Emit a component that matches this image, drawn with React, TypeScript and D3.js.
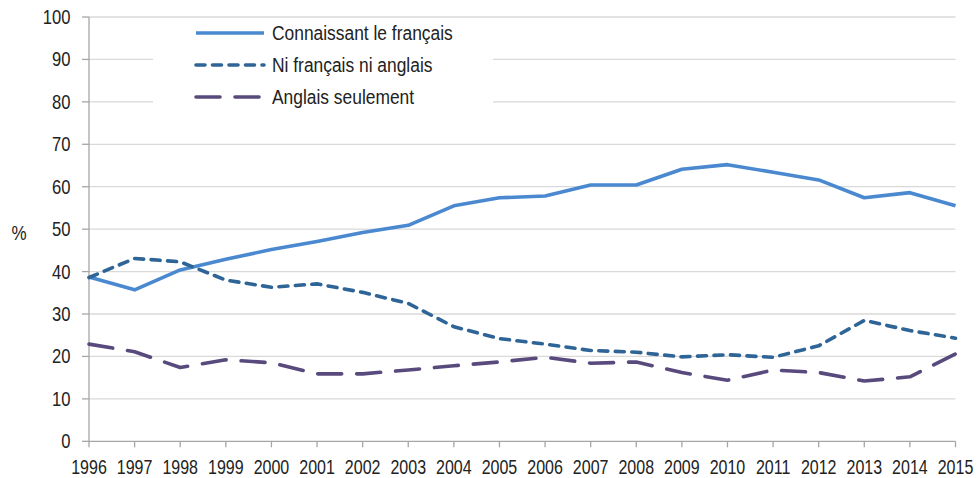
import React from "react";
import * as d3 from "d3";

const years = [1996, 1997, 1998, 1999, 2000, 2001, 2002, 2003, 2004, 2005, 2006, 2007, 2008, 2009, 2010, 2011, 2012, 2013, 2014, 2015];
const connaissant = [38.7, 35.7, 40.4, 42.9, 45.2, 47.1, 49.2, 50.9, 55.5, 57.4, 57.8, 60.4, 60.4, 64.1, 65.2, 63.4, 61.6, 57.4, 58.6, 55.5];
const niNi = [38.6, 43.1, 42.3, 38.0, 36.3, 37.1, 35.1, 32.5, 27.0, 24.2, 22.9, 21.4, 21.0, 19.9, 20.4, 19.8, 22.5, 28.5, 26.1, 24.3];
const anglais = [22.9, 21.1, 17.4, 19.2, 18.5, 15.9, 15.9, 16.8, 17.8, 18.7, 19.8, 18.4, 18.7, 16.2, 14.4, 16.8, 16.2, 14.2, 15.2, 20.6];
const yTicks = [0, 10, 20, 30, 40, 50, 60, 70, 80, 90, 100];
const seriesNames = ["Connaissant le français", "Ni français ni anglais", "Anglais seulement"];

const W = 979;
const H = 478;
const FONT = "'Liberation Sans Narrow', 'Arial Narrow', 'Liberation Sans', Arial, sans-serif";

function NText(props: { x: number; y: number; sx: number; anchor?: string; dy?: string; children: React.ReactNode }) {
  const { x, y, sx, anchor, dy, children } = props;
  return (
    <text transform={`translate(${x},${y}) scale(${sx},1)`} dy={dy} textAnchor={anchor || "start"} fontSize={20} fill="#222">
      {children}
    </text>
  );
}

export default function App() {
  const x = d3.scaleLinear().domain([1996, 2015]).range([89, 955.5]);
  const y = d3.scaleLinear().domain([0, 100]).range([441.3, 17]);

  const line = (vals: number[]) =>
    d3.line<number>().x((_, i) => x(years[i])).y((v) => y(v))(vals) || "";

  const series = [
    { name: seriesNames[0], data: connaissant, color: "#4a89d0", dash: undefined as string | undefined, cap: "butt" },
    { name: seriesNames[1], data: niNi, color: "#2f6497", dash: "9,7.5", cap: "round" },
    { name: seriesNames[2], data: anglais, color: "#594a7d", dash: "24,15", cap: "round" },
  ];

  const legendRows = [33, 65, 97];

  return (
    <svg width={W} height={H} style={{ position: "absolute", left: 0, top: 0, background: "#fff" }} fontFamily={FONT}>
      {yTicks.filter((t) => t > 0).map((t) => (
        <line key={t} x1={89} x2={955.5} y1={y(t)} y2={y(t)} stroke="#d9d9d9" strokeWidth={1.3} />
      ))}
      <rect x={153} y={21} width={340} height={92} fill="#fff" />
      <line x1={89} x2={89} y1={y(100)} y2={y(0)} stroke="#a6a6a6" strokeWidth={1.3} />
      {yTicks.map((t) => (
        <g key={t}>
          <line x1={82} x2={89} y1={y(t)} y2={y(t)} stroke="#a6a6a6" strokeWidth={1.3} />
          <NText x={70.5} y={y(t)} sx={0.83} dy="0.35em" anchor="end">{t}</NText>
        </g>
      ))}
      <line x1={89} x2={955.5} y1={y(0)} y2={y(0)} stroke="#a6a6a6" strokeWidth={1.3} />
      {years.map((yr) => (
        <g key={yr}>
          <line x1={x(yr)} x2={x(yr)} y1={y(0)} y2={y(0) + 6} stroke="#a6a6a6" strokeWidth={1.3} />
          <NText x={x(yr)} y={474} sx={0.8} anchor="middle">{yr}</NText>
        </g>
      ))}
      <NText x={19} y={233} sx={0.85} dy="0.35em" anchor="middle">%</NText>
      {series.map((s) => (
        <path key={s.name} d={line(s.data)} fill="none" stroke={s.color} strokeWidth={3.6}
          strokeDasharray={s.dash} strokeLinecap={s.cap as any} strokeLinejoin="round" />
      ))}
      {series.map((s, i) => (
        <g key={s.name}>
          <line x1={196} x2={264} y1={legendRows[i]} y2={legendRows[i]} stroke={s.color} strokeWidth={3.6}
            strokeDasharray={s.dash} strokeLinecap={s.cap as any} />
          <NText x={272} y={legendRows[i]} sx={0.87} dy="0.35em">{s.name}</NText>
        </g>
      ))}
    </svg>
  );
}
